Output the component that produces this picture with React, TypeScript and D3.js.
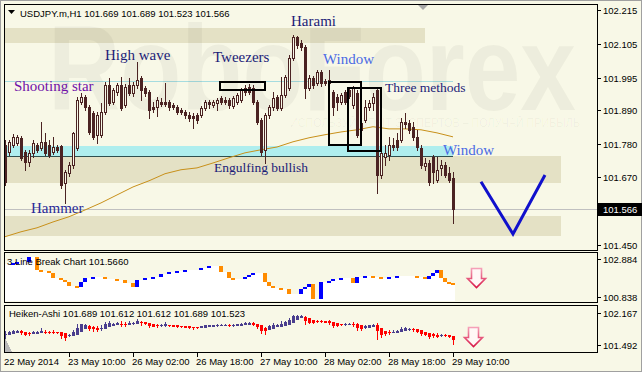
import React from 'react';
import * as d3 from 'd3';

// USDJPY.m H1, 22 May 18:00 .. 29 May 10:00 (one entry per bar)
const opens = [
  101.776, 101.753, 101.776, 101.783, 101.799, 101.753, 101.721, 101.750, 101.776, 101.766,
  101.786, 101.776, 101.753, 101.769, 101.773, 101.652, 101.685, 101.711, 101.766, 101.916,
  101.932, 101.900, 101.880, 101.809, 101.809, 101.883, 101.971, 101.916, 101.949, 101.971,
  101.906, 101.971, 101.945, 101.971, 101.994, 101.962, 101.949, 101.900, 101.900, 101.916,
  101.916, 101.916, 101.906, 101.900, 101.890, 101.883, 101.874, 101.870, 101.874, 101.874,
  101.897, 101.916, 101.906, 101.913, 101.929, 101.923, 101.923, 101.903, 101.916, 101.923,
  101.962, 101.965, 101.962, 101.916, 101.857, 101.760, 101.874, 101.900, 101.932, 101.897,
  101.939, 101.962, 102.059, 102.128, 102.108, 102.095, 101.962, 101.994, 101.978, 102.014,
  101.984, 101.988, 101.949, 101.932, 101.916, 101.949, 101.955, 101.906, 101.945, 101.848,
  101.857, 101.900, 101.913, 101.955, 101.678, 101.737, 101.743, 101.776, 101.792, 101.792,
  101.851, 101.848, 101.835, 101.802, 101.766, 101.708, 101.717, 101.737, 101.662, 101.701,
  101.711, 101.685, 101.669,
];
const highs = [
  101.792, 101.792, 101.812, 101.809, 101.805, 101.760, 101.760, 101.792, 101.783, 101.851,
  101.815, 101.792, 101.802, 101.776, 101.776, 101.695, 101.721, 101.818, 101.932, 101.945,
  101.939, 101.906, 101.886, 101.883, 101.913, 101.981, 101.994, 101.962, 101.978, 101.997,
  101.975, 101.994, 101.981, 102.046, 102.001, 101.968, 101.955, 101.916, 101.932, 101.929,
  101.978, 101.923, 101.913, 101.906, 101.897, 101.890, 101.883, 101.880, 101.880, 101.903,
  101.923, 101.923, 101.923, 101.929, 101.936, 101.932, 101.929, 101.936, 101.945, 101.962,
  101.971, 101.975, 101.971, 101.923, 101.864, 101.880, 101.906, 101.949, 101.939, 101.997,
  102.004, 102.069, 102.134, 102.131, 102.118, 102.101, 102.004, 102.001, 102.020, 102.020,
  101.991, 102.020, 101.955, 101.942, 101.945, 101.955, 101.962, 101.968, 101.955, 101.874,
  101.923, 101.923, 101.945, 101.962, 101.776, 101.776, 101.802, 101.799, 101.815, 101.864,
  101.880, 101.857, 101.851, 101.825, 101.776, 101.734, 101.727, 101.743, 101.737, 101.727,
  101.721, 101.705, 101.689,
];
const lows = [
  101.646, 101.743, 101.769, 101.776, 101.727, 101.695, 101.708, 101.737, 101.753, 101.760,
  101.743, 101.737, 101.747, 101.753, 101.636, 101.587, 101.675, 101.701, 101.760, 101.910,
  101.890, 101.812, 101.796, 101.783, 101.802, 101.877, 101.906, 101.910, 101.939, 101.890,
  101.900, 101.939, 101.936, 101.962, 101.923, 101.936, 101.864, 101.883, 101.870, 101.903,
  101.903, 101.890, 101.893, 101.877, 101.877, 101.864, 101.854, 101.831, 101.848, 101.867,
  101.890, 101.897, 101.900, 101.890, 101.910, 101.910, 101.897, 101.897, 101.910, 101.916,
  101.939, 101.942, 101.910, 101.844, 101.743, 101.717, 101.864, 101.890, 101.890, 101.890,
  101.932, 101.955, 102.053, 102.092, 102.085, 101.929, 101.955, 101.962, 101.971, 101.968,
  101.971, 101.945, 101.874, 101.890, 101.910, 101.910, 101.929, 101.897, 101.802, 101.818,
  101.851, 101.890, 101.890, 101.620, 101.669, 101.711, 101.727, 101.760, 101.760, 101.786,
  101.831, 101.815, 101.792, 101.760, 101.701, 101.695, 101.646, 101.652, 101.656, 101.678,
  101.672, 101.656, 101.523,
];
const closes = [
  101.656, 101.786, 101.802, 101.802, 101.734, 101.721, 101.750, 101.783, 101.760, 101.786,
  101.750, 101.743, 101.769, 101.760, 101.646, 101.688, 101.711, 101.815, 101.923, 101.932,
  101.900, 101.818, 101.802, 101.874, 101.883, 101.971, 101.913, 101.955, 101.971, 101.897,
  101.965, 101.945, 101.971, 101.988, 101.955, 101.945, 101.890, 101.893, 101.923, 101.910,
  101.910, 101.900, 101.900, 101.883, 101.883, 101.874, 101.864, 101.864, 101.857, 101.897,
  101.916, 101.910, 101.916, 101.923, 101.916, 101.916, 101.906, 101.929, 101.939, 101.955,
  101.949, 101.949, 101.916, 101.851, 101.753, 101.874, 101.900, 101.929, 101.897, 101.939,
  101.997, 102.059, 102.128, 102.101, 102.095, 101.962, 101.994, 101.971, 102.014, 101.978,
  101.978, 101.978, 101.900, 101.916, 101.939, 101.916, 101.936, 101.962, 101.809, 101.825,
  101.900, 101.913, 101.932, 101.678, 101.750, 101.750, 101.776, 101.769, 101.769, 101.851,
  101.844, 101.825, 101.802, 101.769, 101.711, 101.717, 101.656, 101.688, 101.695, 101.711,
  101.678, 101.662, 101.566,
];

// slow moving average, read every 4th bar
const maValues = [
  101.477, 101.493, 101.506, 101.525, 101.542, 101.564, 101.587, 101.613, 101.639, 101.659,
  101.682, 101.695, 101.701, 101.717, 101.734, 101.750, 101.760, 101.769, 101.786, 101.799,
  101.809, 101.818, 101.825, 101.835, 101.828, 101.828, 101.825, 101.815, 101.802,
];

// 3 Line Break level per bar
const lineBreak = [
  102.615, 102.615, 102.669, 102.722, 102.722, 102.722, 102.992, 102.992, 102.292, 102.238,
  102.238, 102.130, 101.861, 101.861, 101.753, 101.646, 101.430, 101.430, 101.376, 101.646,
  101.861, 101.861, 101.915, 101.915, 101.915, 101.807, 101.807, 101.807, 101.753, 101.753,
  101.592, 101.592, 101.376, 101.753, 101.753, 101.861, 101.861, 101.915, 101.915, 102.076,
  102.076, 102.184, 102.184, 102.238, 102.238, 102.292, 102.292, 102.292, 102.292, 102.399,
  102.399, 102.507, 102.507, 102.507, 102.184, 102.184, 101.861, 101.807, 101.807, 101.807,
  101.915, 102.022, 102.130, 102.130, 102.130, 101.646, 101.430, 101.323, 101.323, 101.269,
  101.269, 101.000, 101.000, 101.000, 101.269, 101.376, 101.538, 100.730, 100.730, 101.646,
  101.646, 101.699, 101.807, 101.807, 101.861, 101.861, 101.861, 101.592, 101.915, 101.915,
  101.969, 101.969, 101.915, 101.915, 101.861, 101.861, 101.915, 101.915, 101.969, 101.969,
  101.969, 101.969, 101.969, 101.915, 101.915, 101.807, 101.969, 102.130, 102.292, 101.861,
  101.646, 101.592, 101.484,
];

const priceTicks = [102.215, 102.105, 101.995, 101.890, 101.780, 101.670, 101.450];
const lbTicks = [102.884, 100.838];
const haTicks = [102.167, 101.492];
const timeIdx = [0, 16, 32, 48, 64, 80, 96, 112];
const timeLabels = ['22 May 2014', '23 May 10:00', '26 May 02:00', '26 May 18:00', '27 May 10:00', '28 May 02:00', '28 May 18:00', '29 May 10:00'];

// horizontal zones drawn on the chart [low, high, last bar]
const zoneLow = [102.108, 101.652, 101.480];
const zoneHigh = [102.157, 101.740, 101.545];
const zoneEnd = [105, 139, 139];
const cyanZone = [101.740, 101.773];
const resistLine = 101.984;

// pattern boxes [bar from, bar to, price high, price low]
const boxes = [
  [53.75, 65, 101.981, 101.955],
  [81, 89, 101.981, 101.776],
  [85.75, 94, 101.962, 101.756],
];
// forecast "V"
const vIdx = [119, 127, 135];
const vPrice = [101.656, 101.486, 101.678];

const notes = [
  { t: 'Shooting star', x: 14, y: 91, c: '#7010a8', s: 15 },
  { t: 'High wave', x: 105, y: 60, c: '#1c1c78', s: 15 },
  { t: 'Tweezers', x: 213, y: 62, c: '#1c1c78', s: 15 },
  { t: 'Harami', x: 291, y: 26, c: '#1c1c78', s: 15 },
  { t: 'Window', x: 323, y: 64, c: '#4a6ae4', s: 15 },
  { t: 'Three methods', x: 385, y: 92, c: '#1c1c78', s: 13.5 },
  { t: 'Window', x: 443, y: 155, c: '#4a6ae4', s: 15 },
  { t: 'Engulfing bullish', x: 214, y: 172, c: '#1c1c78', s: 13.5 },
  { t: 'Hammer', x: 31, y: 213, c: '#2a2a98', s: 15 },
];

const BG = '#f8f8e7';
const ZONE = '#e4e1c5';
const CANDLE = '#4b2323';
const AXIS_FONT = "Tahoma, 'Liberation Sans', Arial, sans-serif";
const SERIF = "'Liberation Serif', 'Times New Roman', serif";

const L = 4.5, R = 597.5;

function DownArrow({ cx, top, id }: { cx: number; top: number; id: string }) {
  const pts = [
    [cx - 5, top], [cx + 5, top], [cx + 5, top + 10], [cx + 9, top + 10],
    [cx, top + 19], [cx - 9, top + 10], [cx - 5, top + 10],
  ];
  return (
    <g>
      <defs>
        <linearGradient id={id} x1="0" y1="0" x2="0" y2="1">
          <stop offset="0" stopColor="#f5a0b8" />
          <stop offset="1" stopColor="#d81848" />
        </linearGradient>
      </defs>
      <polygon points={pts.map(p => p.join(',')).join(' ')} fill="#fff8f6" stroke={`url(#${id})`} strokeWidth={1.6} />
    </g>
  );
}

export default function App() {
  const n = closes.length;
  const x = d3.scaleLinear().domain([0, n - 1]).range([5, 453]);
  const y = d3.scaleLinear().domain([101.45, 102.215]).range([245, 10]);
  const yLB = d3.scaleLinear().domain([100.838, 102.884]).range([297, 259]);
  const yHA = d3.scaleLinear().domain([101.492, 102.167]).range([345, 313]);

  const maLine = d3.line<number>()
    .x((_, i) => x(i * 4))
    .y(d => y(d));

  // Heiken-Ashi from the bars
  const ha: { o: number; h: number; l: number; c: number }[] = [];
  closes.forEach((c, i) => {
    const hc = (opens[i] + highs[i] + lows[i] + c) / 4;
    const ho = i === 0 ? (opens[0] + c) / 2 : (ha[i - 1].o + ha[i - 1].c) / 2;
    ha.push({ o: ho, c: hc, h: Math.max(highs[i], ho, hc), l: Math.min(lows[i], ho, hc) });
  });

  const last = n - 1;
  const fmt = d3.format('.3f');
  const header = `USDJPY.m,H1  ${fmt(opens[last])} ${fmt(highs[last])} ${fmt(lows[last])} ${fmt(closes[last])}`;

  const vLine = d3.line<number>().x((d) => x(d)).y((_, i) => y(vPrice[i]));

  return (
    <svg width={642} height={372} style={{ position: 'fixed', left: 0, top: 0, display: 'block' }}
      fontFamily={AXIS_FONT}>
      <defs>
        <clipPath id="main"><rect x={5} y={5} width={592} height={245} /></clipPath>
        <clipPath id="sub1"><rect x={5} y={253} width={592} height={49} /></clipPath>
        <clipPath id="sub2"><rect x={5} y={306} width={592} height={46} /></clipPath>
      </defs>
      <rect x={0} y={0} width={642} height={372} fill={BG} />
      <rect x={0.5} y={0.5} width={641} height={371} fill="none" stroke="#a0a0a0" />

      {/* main window */}
      <g clipPath="url(#main)">
        <g shapeRendering="crispEdges">
          {zoneLow.map((lo, i) => (
            <rect key={i} x={5} y={y(zoneHigh[i])} width={x(zoneEnd[i]) - 5} height={y(lo) - y(zoneHigh[i])} fill={ZONE} />
          ))}
          <rect x={5} y={y(cyanZone[1])} width={x(n - 1) - 5} height={y(cyanZone[0]) - y(cyanZone[1])} fill="#afeeee" />
          <line x1={5} x2={x(n - 1)} y1={Math.round(y(cyanZone[0])) + 0.5} y2={Math.round(y(cyanZone[0])) + 0.5} stroke="#2f4f4f" />
          <line x1={5} x2={x(n - 1)} y1={Math.round(y(resistLine)) + 0.5} y2={Math.round(y(resistLine)) + 0.5} stroke="#a6dcdf" />
          <line x1={5} x2={597} y1={Math.round(y(closes[last])) + 0.5} y2={Math.round(y(closes[last])) + 0.5} stroke="#c0c0c0" />
        </g>

        <text x={48} y={110} fontFamily="'Liberation Sans', Arial, sans-serif" fontWeight="bold" fontSize={120}
          textLength={528} lengthAdjust="spacingAndGlyphs" fill="#000" fillOpacity={0.045}>RoboForex</text>
        <text x={290} y={127} fontFamily="'Liberation Sans', Arial, sans-serif" fontSize={12}
          textLength={290} lengthAdjust="spacingAndGlyphs" fill="#000" fillOpacity={0.04}>ИСПОЛЬЗУЙ ОПЫТ ЭКСПЕРТОВ – ПОЛУЧАЙ ПРИБЫЛЬ</text>

        <path d={maLine(maValues) || ''} fill="none" stroke="#c8901a" strokeWidth={1} />

        <g shapeRendering="crispEdges">
          {closes.map((c, i) => {
            const xi = Math.round(x(i));
            const o = opens[i];
            const top = Math.round(y(Math.max(o, c)));
            const bot = Math.round(y(Math.min(o, c)));
            const bull = c > o;
            return (
              <g key={i}>
                <line x1={xi + 0.5} x2={xi + 0.5} y1={Math.round(y(highs[i]))} y2={Math.round(y(lows[i])) + 1} stroke={CANDLE} />
                {bull
                  ? <rect x={xi - 0.5} y={top + 0.5} width={2} height={Math.max(1, bot - top)} fill={BG} stroke={CANDLE} />
                  : <rect x={xi - 1} y={top} width={3} height={Math.max(1, bot - top + 1)} fill={CANDLE} />}
              </g>
            );
          })}
        </g>

        <g fill="none" stroke="#000" strokeWidth={2} shapeRendering="crispEdges">
          {boxes.map((b, i) => (
            <rect key={i} x={x(b[0])} y={y(b[2])} width={x(b[1]) - x(b[0])} height={y(b[3]) - y(b[2])} />
          ))}
        </g>

        {notes.map((nt, i) => (
          <text key={i} x={nt.x} y={nt.y} fontFamily={SERIF} fontSize={nt.s} fill={nt.c}>{nt.t}</text>
        ))}

        <path d={vLine(vIdx) || ''} fill="none" stroke="#1010cc" strokeWidth={3} strokeLinejoin="miter" />

        <polygon points="8,10 15,10 11.5,14" fill="#000" />
        <text x={20} y={17} fontSize={9.5} fill="#000">{header}</text>
        <polygon points="418,5 428,5 423,10" fill="#a8a8a8" />
      </g>

      {/* 3 Line Break window */}
      <g clipPath="url(#sub1)" shapeRendering="crispEdges">
        {lineBreak.map((v, i) => {
          const xi = Math.round(x(i));
          const yy = Math.round(yLB(v));
          return <rect key={i} x={i === 0 ? 5 : xi - 2} y={yy} width={i === 0 ? xi + 2 - 5 : 4} height={301 - yy} fill="#fff" />;
        })}
        {lineBreak.map((v, i) => {
          if (i === 0 || v === lineBreak[i - 1]) return null;
          const xi = Math.round(x(i));
          const y0 = Math.round(yLB(lineBreak[i - 1]));
          const y1 = Math.round(yLB(v));
          const up = v > lineBreak[i - 1];
          const top = Math.min(y0, y1), h = Math.max(2, Math.abs(y1 - y0));
          return <rect key={'b' + i} x={xi - 2} y={up ? top : Math.max(top, y1 - h)} width={4} height={h} fill={up ? '#0000ff' : '#ff8c00'} />;
        })}
      </g>
      <text x={7} y={265} fontSize={9.5} fill="#000">3 Line Break Chart 101.5660</text>
      <DownArrow cx={476.5} top={268.5} id="ga1" />

      {/* Heiken-Ashi window */}
      <g clipPath="url(#sub2)" shapeRendering="crispEdges">
        <polygon points="5,338 5,352 12,352" fill="#b8b8b8" />
        {ha.map((d, i) => {
          const xi = Math.round(x(i));
          const col = d.c >= d.o ? '#4a3e8e' : '#ff0000';
          const top = Math.round(yHA(Math.max(d.o, d.c)));
          const bot = Math.round(yHA(Math.min(d.o, d.c)));
          return (
            <g key={i}>
              <line x1={xi + 0.5} x2={xi + 0.5} y1={Math.round(yHA(d.h))} y2={Math.round(yHA(d.l)) + 1} stroke={col} />
              <rect x={xi - 1} y={top} width={3} height={Math.max(1, bot - top + 1)} fill={col} />
            </g>
          );
        })}
      </g>
      <text x={9} y={317} fontSize={9.5} fill="#000">Heiken-Ashi 101.689 101.612 101.612 101.689 101.523</text>
      <DownArrow cx={473.5} top={327.5} id="ga2" />

      {/* frames */}
      <g fill="none" stroke="#000" shapeRendering="crispEdges">
        <rect x={L} y={4.5} width={R - L} height={246} />
        <rect x={L} y={252.5} width={R - L} height={50} />
        <rect x={L} y={305.5} width={R - L} height={47} />
      </g>

      {/* price axes */}
      <g fontSize={9.5} fill="#000" shapeRendering="crispEdges">
        {priceTicks.map(p => (
          <g key={p}>
            <line x1={597} x2={601} y1={Math.round(y(p)) + 0.5} y2={Math.round(y(p)) + 0.5} stroke="#000" />
            <text x={603} y={Math.round(y(p)) + 4}>{fmt(p)}</text>
          </g>
        ))}
        <rect x={598} y={Math.round(y(closes[last])) - 6} width={44} height={13} fill="#000" />
        <text x={603} y={Math.round(y(closes[last])) + 4} fill="#fff">{fmt(closes[last])}</text>
        {lbTicks.map(p => (
          <g key={p}>
            <line x1={597} x2={601} y1={Math.round(yLB(p)) + 0.5} y2={Math.round(yLB(p)) + 0.5} stroke="#000" />
            <text x={603} y={Math.round(yLB(p)) + 4}>{fmt(p)}</text>
          </g>
        ))}
        {haTicks.map(p => (
          <g key={p}>
            <line x1={597} x2={601} y1={Math.round(yHA(p)) + 0.5} y2={Math.round(yHA(p)) + 0.5} stroke="#000" />
            <text x={603} y={Math.round(yHA(p)) + 4}>{fmt(p)}</text>
          </g>
        ))}
      </g>

      {/* time axis */}
      <g fontSize={9.5} fill="#000" shapeRendering="crispEdges">
        {timeIdx.map((ti, k) => (
          <g key={ti}>
            {k > 0 && <line x1={Math.round(x(ti)) + 0.5} x2={Math.round(x(ti)) + 0.5} y1={353} y2={357} stroke="#000" />}
            <text x={Math.round(x(ti)) - 1} y={365}>{timeLabels[k]}</text>
          </g>
        ))}
      </g>
    </svg>
  );
}
